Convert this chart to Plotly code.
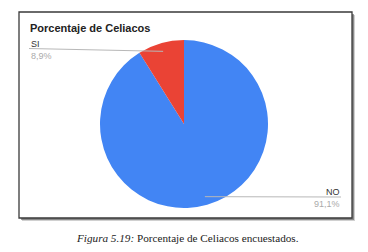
import math
import plotly.graph_objects as go

labels = ["NO", "SI"]
values = [91.1, 8.9]
pct_text = ["91,1%", "8,9%"]
colors = ["#4285f4", "#ea4335"]
title = "Porcentaje de Celiacos"
caption_italic = "Figura 5.19:"
caption_rest = " Porcentaje de Celiacos encuestados."

W, H = 368, 252
def px(x): return x / W
def py(y): return 1 - y / H

cx, cy, r = 184, 124, 84

fig = go.Figure()
fig.add_trace(go.Pie(
    labels=labels, values=values, sort=False, direction="clockwise", rotation=0,
    marker=dict(colors=colors, line=dict(width=0)), textinfo="none", hoverinfo="label+percent",
    domain=dict(x=[px(cx - r), px(cx + r)], y=[py(cy + r), py(cy - r)]),
    showlegend=False,
))

shapes = []
# shadow
shapes.append(dict(type="rect", xref="paper", yref="paper", x0=px(22), x1=px(355), y0=py(221), y1=py(15),
                   line=dict(width=0), fillcolor="rgba(120,120,120,0.35)", layer="below"))
shapes.append(dict(type="rect", xref="paper", yref="paper", x0=px(21), x1=px(354), y0=py(220), y1=py(14),
                   line=dict(width=0), fillcolor="rgba(80,80,80,0.55)", layer="below"))
shapes.append(dict(type="rect", xref="paper", yref="paper", x0=px(19), x1=px(352), y0=py(218), y1=py(12),
                   line=dict(color="#3a3a3a", width=1.3), fillcolor="white", layer="below"))

annotations = []
total = sum(values)
cum = 0
for i, v in enumerate(values):
    mid = (cum + v / 2) / total * 360
    cum += v
    ex = cx + 0.9 * r * math.sin(math.radians(mid))
    ey = cy - 0.9 * r * math.cos(math.radians(mid))
    if ex < cx:
        lx = 29
        shapes.append(dict(type="line", xref="paper", yref="paper", x0=px(lx), y0=py(48.5), x1=px(ex), y1=py(ey),
                           line=dict(color="#b8b8b8", width=1)))
        annotations.append(dict(x=px(lx), y=py(44), xref="paper", yref="paper", text=labels[i], showarrow=False,
                                xanchor="left", yanchor="middle", font=dict(family="Liberation Sans, Arial", size=9, color="#333333")))
        annotations.append(dict(x=px(lx), y=py(56), xref="paper", yref="paper", text=pct_text[i], showarrow=False,
                                xanchor="left", yanchor="middle", font=dict(family="Liberation Sans, Arial", size=9, color="#aaaaaa")))
    else:
        lx = 341
        shapes.append(dict(type="line", xref="paper", yref="paper", x0=px(ex), y0=py(ey), x1=px(lx), y1=py(197),
                           line=dict(color="#b8b8b8", width=1)))
        annotations.append(dict(x=px(lx + 1), y=py(192), xref="paper", yref="paper", text=labels[i], showarrow=False,
                                xanchor="right", yanchor="middle", font=dict(family="Liberation Sans, Arial", size=9, color="#333333")))
        annotations.append(dict(x=px(lx + 1), y=py(204), xref="paper", yref="paper", text=pct_text[i], showarrow=False,
                                xanchor="right", yanchor="middle", font=dict(family="Liberation Sans, Arial", size=9, color="#aaaaaa")))

annotations.append(dict(x=px(28), y=py(28), xref="paper", yref="paper", text="<b>" + title + "</b>", showarrow=False,
                        xanchor="left", yanchor="middle", font=dict(family="Liberation Sans, Arial", size=11, color="#222222")))
annotations.append(dict(x=px(187), y=py(238), xref="paper", yref="paper",
                        text="<i>" + caption_italic + "</i>" + caption_rest, showarrow=False,
                        xanchor="center", yanchor="middle", font=dict(family="Liberation Serif, Times New Roman", size=11.2, color="#222222")))

fig.update_layout(width=W, height=H, margin=dict(l=0, r=0, t=0, b=0), paper_bgcolor="white", plot_bgcolor="white",
                  shapes=shapes, annotations=annotations)
fig.write_html("out.html")
